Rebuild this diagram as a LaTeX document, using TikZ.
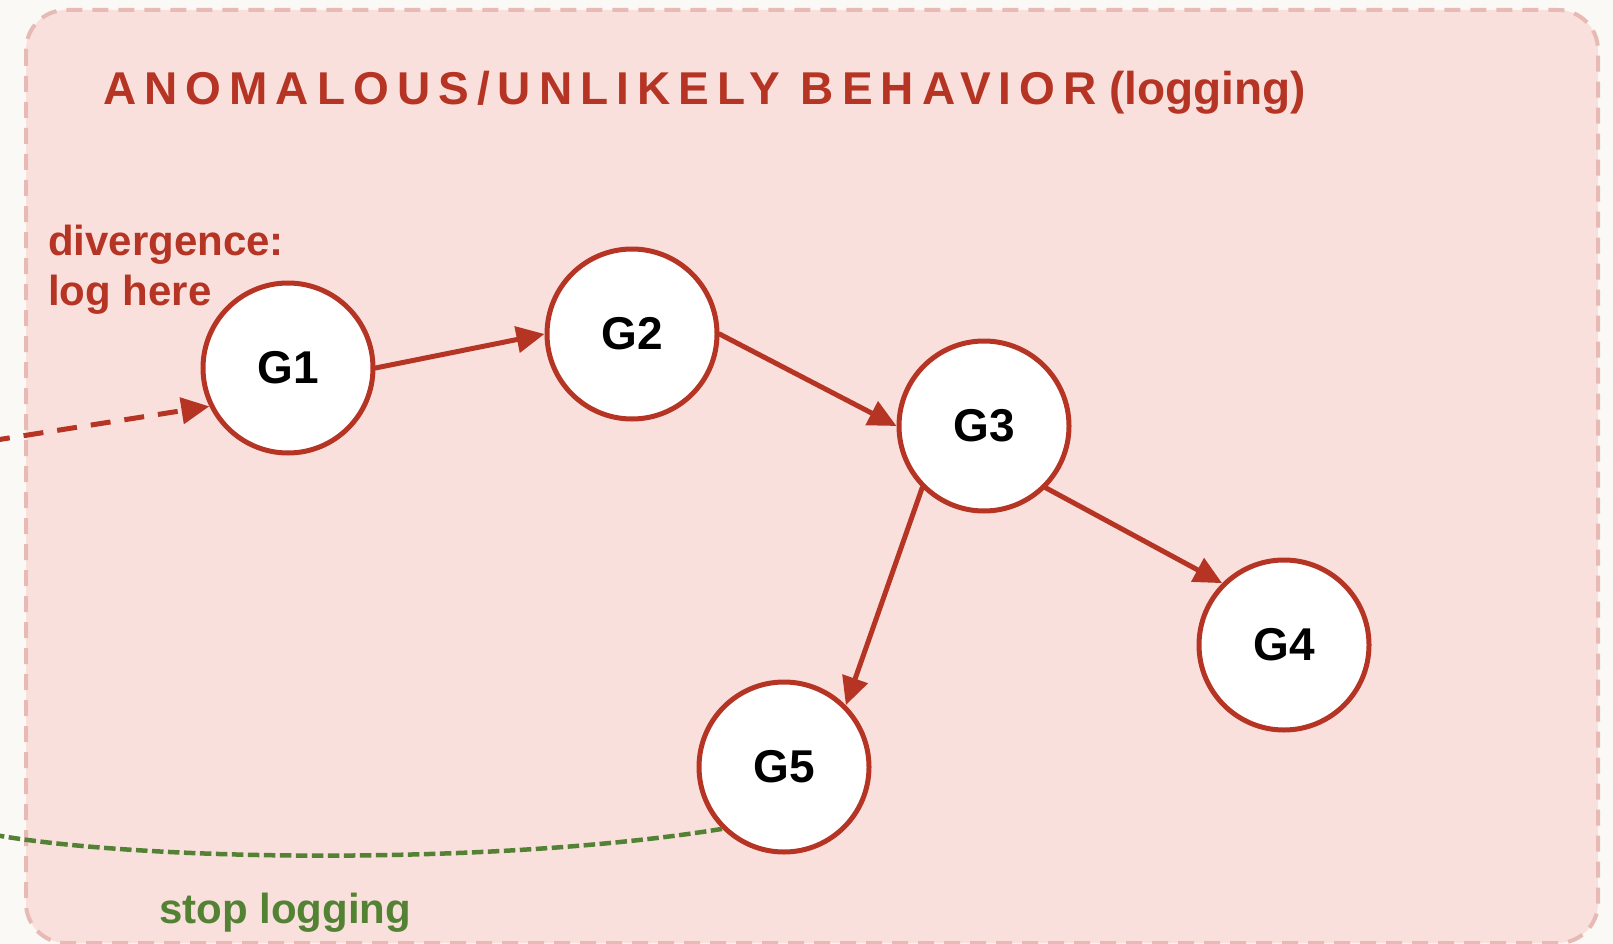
\documentclass[tikz,border=0pt]{standalone}
\usepackage{fontspec}
\setmainfont{Liberation Sans}
\usetikzlibrary{arrows.meta}
\definecolor{paperi}{RGB}{250,249,246}
\definecolor{laatikko}{RGB}{249,224,220}
\definecolor{reuna}{RGB}{232,186,181}
\definecolor{punainen}{RGB}{181,52,36}
\definecolor{vihrea}{RGB}{84,130,53}
\tikzset{
  gnode/.style={circle,draw=punainen,fill=white,line width=5pt,minimum size=170pt,inner sep=0pt,font=\fontsize{46}{50}\selectfont\bfseries},
  kaari/.style={->,draw=punainen,line width=5pt},
  teksti/.style={anchor=base west,inner sep=0pt,font=\fontsize{42}{50}\selectfont\bfseries}
}
\begin{document}
\begin{tikzpicture}[line cap=round,line join=round,>={Triangle[length=28pt,width=26pt]},x=1pt,y=-1pt]
\useasboundingbox (0,0) rectangle (1613,944);
\clip (0,0) rectangle (1613,944);
\fill[paperi] (0,0) rectangle (1613,944);
%laatikko
\draw[fill=laatikko,draw=reuna,line width=4pt,line cap=butt,dash pattern=on 16pt off 10pt,rounded corners=40pt] (26,10) rectangle (1598,943);
\node[anchor=base west,inner sep=0pt,text=punainen,font=\fontsize{46}{50}\selectfont\bfseries] (otsikko) at (103,105)
  {{\addfontfeature{LetterSpace=17.5}ANOMALOUS/UNLIKELY BEHAVIOR} (logging)};

%solmut
\node[gnode] (G1) at (288,368) {G1};
\node[gnode] (G2) at (632,334) {G2};
\node[gnode] (G3) at (984,426) {G3};
\node[gnode] (G4) at (1284,645) {G4};
\node[gnode] (G5) at (784,767) {G5};

%nuolet
\draw[kaari] (G1.east) -- (G2.west);
\draw[kaari] (G2.east) -- (G3.west);
\draw[kaari] (G3.south east) -- (G4.north west);
\draw[kaari] (G3.south west) -- (G5.north east);

\coordinate (alku) at (-10,441);
\draw[kaari,line cap=butt,dash pattern=on 20pt off 14pt] (alku) -- (G1.206);
\node[teksti,text=punainen,align=left] (div) at (48,305) {divergence:\\log here};

\coordinate (loppu) at (-5,835);
\draw[vihrea,line width=4.5pt,line cap=butt,dash pattern=on 11.5pt off 4.5pt] (G5.south west) .. controls (500,865) and (150,862) .. (loppu);
\node[teksti,text=vihrea] (stop) at (159,923) {stop logging};
\end{tikzpicture}
\end{document}
